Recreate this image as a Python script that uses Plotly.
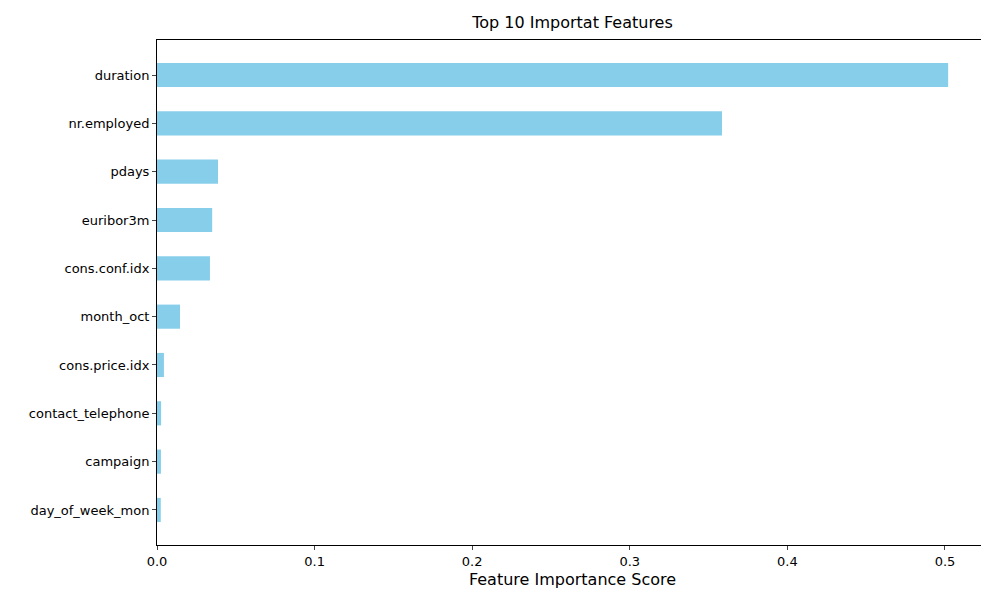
import plotly.graph_objects as go

features = ["day_of_week_mon", "campaign", "contact_telephone", "cons.price.idx",
            "month_oct", "cons.conf.idx", "euribor3m", "pdays", "nr.employed", "duration"]
scores = [0.0024, 0.0025, 0.0026, 0.0044, 0.0146, 0.0336, 0.035, 0.0387, 0.3585, 0.502]
ticks = [0, 0.1, 0.2, 0.3, 0.4, 0.5]

fig = go.Figure(go.Bar(
    x=scores, y=features, orientation="h", width=0.5,
    marker=dict(color="skyblue", line=dict(width=0)),
))
fig.update_layout(
    width=989, height=590,
    margin=dict(l=149, r=9, t=32, b=53, autoexpand=False),
    plot_bgcolor="white", paper_bgcolor="white",
    font=dict(family="DejaVu Sans", size=13, color="black"),
    title=dict(text="Top 10 Importat Features", x=0.5, xanchor="center", xref="paper",
               y=1 - 9 / 590, yanchor="top", font=dict(size=16)),
    showlegend=False,
)
fig.update_xaxes(
    range=[0, 0.5273], tickvals=ticks, ticktext=[str(t) if t else "0.0" for t in ticks],
    ticks="outside", ticklen=4, showgrid=False, zeroline=False, automargin=False,
    showline=True, linecolor="black", mirror=True,
    title=dict(text="Feature Importance Score", standoff=6),
)
fig.update_yaxes(
    range=[-0.725, 9.725], ticks="outside", ticklen=4, showgrid=False, automargin=False,
    showline=True, linecolor="black", mirror=True,
)
fig.write_html("out.html")
